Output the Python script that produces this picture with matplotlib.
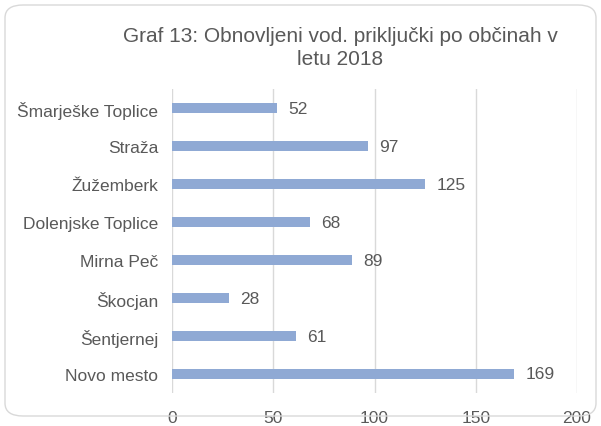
import matplotlib.pyplot as plt
from matplotlib.patches import FancyBboxPatch

plt.rcParams['font.family'] = ['Liberation Sans', 'DejaVu Sans']

obcine = ['Novo mesto', 'Šentjernej', 'Škocjan', 'Mirna Peč',
          'Dolenjske Toplice', 'Žužemberk', 'Straža', 'Šmarješke Toplice']
prikljucki = [169, 61, 28, 89, 68, 125, 97, 52]
x_ticks = [0, 50, 100, 150, 200]

text_col = '#595959'
bar_col = '#8FA9D4'

fig = plt.figure(figsize=(6.01, 4.27), dpi=100)
ax = fig.add_axes([172 / 601, 1 - 394 / 427, 405 / 601, 304 / 427])

y = range(len(obcine))
ax.barh(y, prikljucki, height=0.27, color=bar_col, zorder=3)
for yi, v in zip(y, prikljucki):
    ax.annotate(str(v), (v, yi), xytext=(8, 0), textcoords='offset points',
                va='center', ha='left', fontsize=12.5, color=text_col)

ax.set_xlim(0, 200)
ax.set_ylim(-0.5, len(obcine) - 0.5)
ax.set_xticks(x_ticks)
ax.set_yticks(list(y))
ax.set_yticklabels(obcine)
ax.tick_params(axis='both', length=0, labelsize=12.5, colors=text_col)
ax.tick_params(axis='x', pad=12)
ax.tick_params(axis='y', pad=10)
ax.grid(axis='x', color='#D9D9D9', linewidth=1, zorder=0)
for s in ax.spines.values():
    s.set_visible(False)

fig.text(340 / 601, 1 - 48 / 427, 'Graf 13: Obnovljeni vod. priključki po občinah v\nletu 2018',
         ha='center', va='center', fontsize=15, color=text_col, linespacing=1.25)

border = FancyBboxPatch((5 / 601, 10 / 427), 591 / 601, 411 / 427,
                        boxstyle='round,pad=0,rounding_size=0.03',
                        transform=fig.transFigure, fill=False,
                        edgecolor='#D9D9D9', linewidth=1)
fig.patches.append(border)

fig.savefig('out.png', dpi=100)
